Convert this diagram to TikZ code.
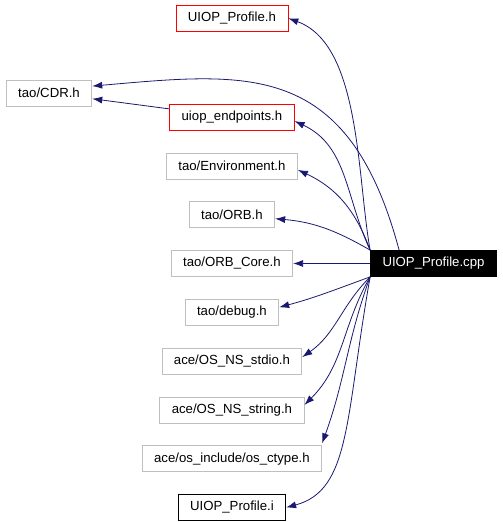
\documentclass[tikz,border=0pt]{standalone}
\usepackage{fontspec}
\setmainfont{Liberation Sans}
\usepackage{tikz}
\usepackage{xcolor}
\usetikzlibrary{positioning}
\usetikzlibrary{calc}
\usetikzlibrary{arrows.meta}
\definecolor{edgecolor}{RGB}{25, 25, 112}
\definecolor{hdrgray}{RGB}{191, 191, 191}
\definecolor{hdrred}{RGB}{255, 0, 0}
\tikzstyle{hdr} = [
	draw=hdrgray,
	line width=0.8pt,
	minimum height=26pt,
	inner xsep=12pt,
	inner ysep=0pt,
	font=\fontsize{13.2}{16}\selectfont,
]
\tikzstyle{hdrmissing} = [
	hdr,
	draw=hdrred,
]
\tikzstyle{hdrlinked} = [
	hdr,
	draw=black,
]
\tikzstyle{srcfile} = [
	hdr,
	draw=black,
	fill=black,
	text=white,
]
\tikzstyle{dep} = [
	draw=edgecolor,
	line width=0.8pt,
	-{Latex[length=10pt, width=7pt]},
]

\begin{document}
\begin{tikzpicture}[node distance=22pt and 77pt]
	\useasboundingbox (0pt,0pt) rectangle (503pt,-522pt);

	%
	% Source file and the middle row
	\node[srcfile] at (433.5pt,-263.5pt) (cpp) {UIOP\_Profile.cpp};
	\node[hdr, left=of cpp] (ORB_Core) {tao/ORB\_Core.h};

	%
	% Headers above
	\node[hdr, above=of ORB_Core] (ORB) {tao/ORB.h};
	\node[hdr, above=of ORB] (Environment) {tao/Environment.h};
	\node[hdrmissing, above=of Environment] (uiop_endpoints) {uiop\_endpoints.h};
	\node[hdrmissing, above=72pt of uiop_endpoints] (UIOP_Profile_h) {UIOP\_Profile.h};
	\node[hdr, anchor=east] at ([xshift=-77pt, yshift=24pt]uiop_endpoints.west) (CDR) {tao/CDR.h};

	%
	% Headers below
	\node[hdr, below=of ORB_Core] (debug) {tao/debug.h};
	\node[hdr, below=of debug] (OS_NS_stdio) {ace/OS\_NS\_stdio.h};
	\node[hdr, below=of OS_NS_stdio] (OS_NS_string) {ace/OS\_NS\_string.h};
	\node[hdr, below=of OS_NS_string] (os_ctype) {ace/os\_include/os\_ctype.h};
	\node[hdrlinked, below=of os_ctype] (UIOP_Profile_i) {UIOP\_Profile.i};

	%
	% Arrows

	% upwards
	\draw[dep] (cpp.north west) to[out=100, in=-20, looseness=0.8] (UIOP_Profile_h.east);
	\draw[dep] ([xshift=29pt]cpp.north west) to[out=105, in=5, out looseness=1.45, in looseness=1.15] ([yshift=7pt]CDR.east);
	\draw[dep] (uiop_endpoints) -- (CDR);
	\draw[dep] (cpp.north west) to[out=115, in=-25] ([yshift=-4pt]uiop_endpoints.east);
	\draw[dep] (cpp.north west) to[out=110, in=-25] ([yshift=-4pt]Environment.east);
	\draw[dep] (cpp.north west) to[out=150, in=-5] ([yshift=-4pt]ORB.east);

	% straight across
	\draw[dep] (cpp.west) -- (ORB_Core.east);

	% downwards
	\draw[dep] (cpp.south west) to[out=200, in=15] ([yshift=5pt]debug.east);
	\draw[dep] (cpp.south west) to[out=225, in=35] ([yshift=4pt]OS_NS_stdio.east);
	\draw[dep] (cpp.south west) to[out=240, in=45] ([yshift=5pt]OS_NS_string.east);
	\draw[dep] (cpp.south west) to[out=250, in=70] ([yshift=2pt]os_ctype.north east);
	\draw[dep] (cpp.south west) to[out=260, in=15, out looseness=1.5, in looseness=0.7] (UIOP_Profile_i.east);

\end{tikzpicture}
\end{document}
